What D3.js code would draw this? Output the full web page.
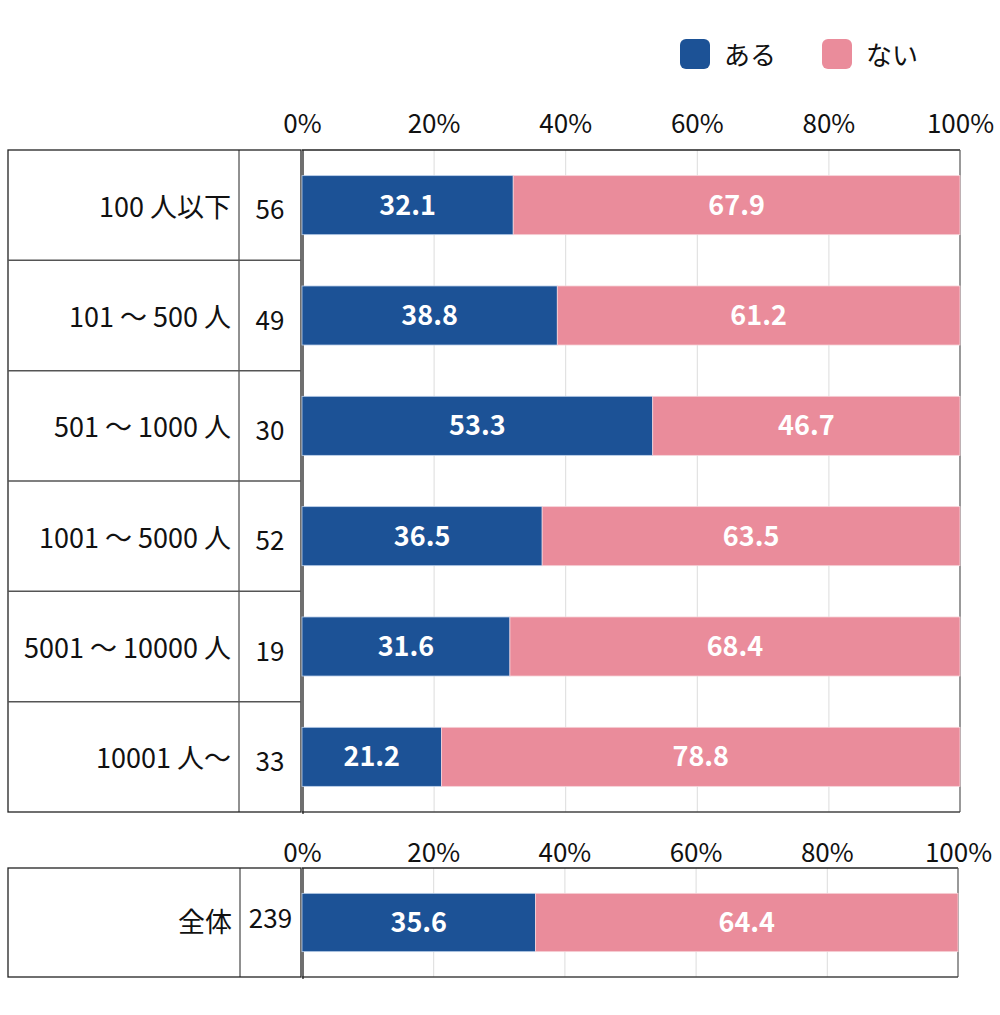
<!DOCTYPE html>
<html>
<head>
<meta charset="utf-8">
<script src="https://cdn.jsdelivr.net/npm/d3@7"></script>
<style>
  body { margin: 0; background: #fff; }
  svg text { font-family: "Noto Sans CJK JP", "Noto Sans", sans-serif; }
</style>
</head>
<body>
<div id="chart"></div>
<script>
// 企業規模別の回答（%）
var categories = ["100 人以下", "101 〜 500 人", "501 〜 1000 人", "1001 〜 5000 人", "5001 〜 10000 人", "10001 人〜"];
var counts = [56, 49, 30, 52, 19, 33];
var aru = [32.1, 38.8, 53.3, 36.5, 31.6, 21.2];
var nai = [67.9, 61.2, 46.7, 63.5, 68.4, 78.8];

var totalLabel = ["全体"];
var totalCount = [239];
var totalAru = [35.6];
var totalNai = [64.4];

var seriesNames = ["ある", "ない"];
var ticks = [0, 20, 40, 60, 80, 100];

var colors = { "ある": "#1c5296", "ない": "#ea8c9b" };

var svg = d3.select("#chart").append("svg")
    .attr("width", 1000)
    .attr("height", 1015);

// 凡例
var legend = svg.append("g").attr("class", "legend");
var legX = d3.scaleOrdinal().domain(seriesNames).range([680, 822]);
seriesNames.forEach(function (s) {
  legend.append("rect")
      .attr("x", legX(s)).attr("y", 39)
      .attr("width", 30).attr("height", 30)
      .attr("rx", 6)
      .attr("fill", colors[s]);
  legend.append("text")
      .attr("x", legX(s) + 44).attr("y", 65)
      .attr("font-size", 26)
      .attr("fill", "#111")
      .text(s);
});

function drawBlock(opt) {
  var g = svg.append("g");
  var rows = opt.labels.map(function (l, i) {
    return { label: l, n: opt.counts[i], aru: opt.aru[i], nai: opt.nai[i] };
  });

  var x = d3.scaleLinear().domain([0, 100]).range([302, opt.right]);
  var yRow = d3.scaleBand().domain(opt.labels).range([opt.top, opt.bottom]).padding(0);
  var yBar = d3.scaleBand().domain(opt.labels).range([opt.top, opt.bottom])
      .paddingInner(0.465).paddingOuter(0.2325);

  // グリッド線
  g.append("g")
      .attr("transform", "translate(0," + opt.top + ")")
      .call(d3.axisBottom(x).tickValues([20, 40, 60, 80]).tickSize(opt.bottom - opt.top).tickFormat(""))
      .call(function (a) {
        a.select(".domain").remove();
        a.selectAll("line").attr("stroke", "#dcdcdc").attr("stroke-width", 1);
      });

  // 目盛りラベル
  g.append("g")
      .attr("transform", "translate(0," + (opt.top - opt.tickGap) + ")")
      .call(d3.axisTop(x).tickValues(ticks).tickSize(0).tickPadding(0).tickFormat(function (d) { return d + "%"; }))
      .call(function (a) {
        a.select(".domain").remove();
        a.selectAll("text")
            .attr("font-size", 26)
            .attr("fill", "#111")
            .attr("font-family", "\"Noto Sans CJK JP\", sans-serif");
      });

  // 表の枠
  var tbl = g.append("g");
  tbl.append("rect")
      .attr("x", 8).attr("y", opt.top)
      .attr("width", 293).attr("height", opt.bottom - opt.top)
      .attr("fill", "none").attr("stroke", "#222").attr("stroke-width", 1.3);
  tbl.append("line")
      .attr("x1", opt.col).attr("x2", opt.col)
      .attr("y1", opt.top).attr("y2", opt.bottom)
      .attr("stroke", "#222").attr("stroke-width", 1);
  tbl.selectAll("line.sep")
      .data(opt.labels.slice(1))
      .enter().append("line")
      .attr("class", "sep")
      .attr("x1", 8).attr("x2", 301)
      .attr("y1", function (d) { return yRow(d); })
      .attr("y2", function (d) { return yRow(d); })
      .attr("stroke", "#555").attr("stroke-width", 1.5);

  // 描画領域の枠
  g.append("line")
      .attr("x1", 302).attr("x2", opt.right)
      .attr("y1", opt.top).attr("y2", opt.top)
      .attr("stroke", "#222").attr("stroke-width", 1.3);
  g.append("line")
      .attr("x1", opt.right).attr("x2", opt.right)
      .attr("y1", opt.top).attr("y2", opt.bottom)
      .attr("stroke", "#555").attr("stroke-width", 1.2);
  g.append("line")
      .attr("x1", 302).attr("x2", opt.right)
      .attr("y1", opt.bottom).attr("y2", opt.bottom)
      .attr("stroke", "#444").attr("stroke-width", 1.3);
  g.append("line")
      .attr("x1", 303).attr("x2", 303)
      .attr("y1", opt.top).attr("y2", opt.bottom + 2)
      .attr("stroke", "#222").attr("stroke-width", 1.3);

  // 棒
  var row = g.selectAll("g.row").data(rows).enter().append("g").attr("class", "row");

  row.append("rect")
      .attr("x", x(0))
      .attr("y", function (d) { return yBar(d.label); })
      .attr("width", function (d) { return x(d.aru) - x(0); })
      .attr("height", yBar.bandwidth())
      .attr("fill", colors["ある"])
      .attr("stroke", "#bcd0ea").attr("stroke-width", 0.8);

  row.append("rect")
      .attr("x", function (d) { return x(d.aru); })
      .attr("y", function (d) { return yBar(d.label); })
      .attr("width", function (d) { return x(d.aru + d.nai) - x(d.aru); })
      .attr("height", yBar.bandwidth())
      .attr("fill", colors["ない"])
      .attr("stroke", "#f6d3d9").attr("stroke-width", 0.8);

  row.append("text")
      .attr("x", function (d) { return (x(0) + x(d.aru)) / 2; })
      .attr("y", function (d) { return yBar(d.label) + yBar.bandwidth() / 2; })
      .attr("dy", "0.35em")
      .attr("text-anchor", "middle")
      .attr("font-size", 27).attr("font-weight", "bold")
      .attr("fill", "#fff")
      .text(function (d) { return d.aru.toFixed(1); });

  row.append("text")
      .attr("x", function (d) { return (x(d.aru) + x(d.aru + d.nai)) / 2; })
      .attr("y", function (d) { return yBar(d.label) + yBar.bandwidth() / 2; })
      .attr("dy", "0.35em")
      .attr("text-anchor", "middle")
      .attr("font-size", 27).attr("font-weight", "bold")
      .attr("fill", "#fff")
      .text(function (d) { return d.nai.toFixed(1); });

  // 表の文字
  row.append("text")
      .attr("x", opt.col - 8)
      .attr("y", function (d) { return yRow(d.label) + yRow.bandwidth() / 2 + opt.labelShift; })
      .attr("dy", "0.35em")
      .attr("text-anchor", "end")
      .attr("font-size", 27)
      .attr("fill", "#111")
      .text(function (d) { return d.label; });

  row.append("text")
      .attr("x", (opt.col + 301) / 2)
      .attr("y", function (d) { return yRow(d.label) + yRow.bandwidth() / 2 + opt.countShift; })
      .attr("dy", "0.35em")
      .attr("text-anchor", "middle")
      .attr("font-size", 26)
      .attr("fill", "#111")
      .text(function (d) { return d.n; });
}

drawBlock({
  labels: categories, counts: counts, aru: aru, nai: nai,
  top: 150, bottom: 812, right: 960, col: 239,
  labelShift: 2, countShift: 5, tickGap: 17
});

drawBlock({
  labels: totalLabel, counts: totalCount, aru: totalAru, nai: totalNai,
  top: 868, bottom: 977, right: 958, col: 240,
  labelShift: 0, countShift: -4, tickGap: 6
});
</script>
</body>
</html>
